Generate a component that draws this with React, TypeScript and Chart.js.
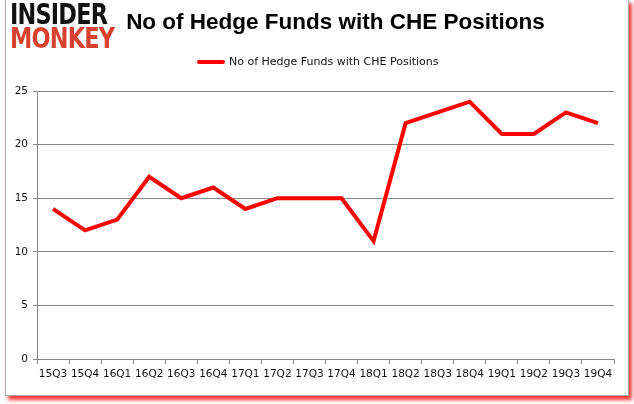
import React, { useEffect, useRef } from "react";
import { Chart, registerables } from "chart.js";

Chart.register(...registerables);

const categories = ["15Q3","15Q4","16Q1","16Q2","16Q3","16Q4","17Q1","17Q2","17Q3","17Q4","18Q1","18Q2","18Q3","18Q4","19Q1","19Q2","19Q3","19Q4"];
const hedgeFunds = [14,12,13,17,15,16,14,15,15,15,11,22,23,24,21,21,23,22];
const seriesLabel = "No of Hedge Funds with CHE Positions";
const titleText = "No of Hedge Funds with CHE Positions";
const yTicks = [0, 5, 10, 15, 20, 25];

export default function App() {
  const ref = useRef<HTMLCanvasElement | null>(null);
  useEffect(() => {
    document.body.style.margin = "0";
    const ctx = ref.current!;
    const chart = new Chart(ctx, {
      type: "line",
      data: {
        labels: categories,
        datasets: [{
          label: seriesLabel,
          data: hedgeFunds,
          borderColor: "#ff0000",
          backgroundColor: "#ff0000",
          borderWidth: 4,
          pointRadius: 0,
          tension: 0,
        }],
      },
      options: {
        animation: false,
        responsive: false,
        maintainAspectRatio: false,
        layout: { padding: { top: 91, right: 20, bottom: 10, left: 0 } },
        plugins: { legend: { display: false }, title: { display: false }, tooltip: { enabled: false } },
        scales: {
          x: {
            offset: true,
            grid: { offset: true, drawOnChartArea: false, drawTicks: true, tickLength: 5, color: "#888" },
            border: { color: "#888" },
            ticks: { color: "#111", font: { family: "DejaVu Sans", size: 10.5 }, maxRotation: 0, autoSkip: false, padding: 4 },
            afterFit: (s: any) => { s.height = 35; },
          },
          y: {
            min: 0, max: 25,
            afterBuildTicks: (s: any) => { s.ticks = yTicks.map((v) => ({ value: v })); },
            grid: { color: "#888", tickLength: 4 },
            border: { color: "#888" },
            ticks: { color: "#111", font: { family: "DejaVu Sans", size: 10.5 }, padding: 5 },
            afterFit: (s: any) => { s.width = 37; },
          },
        },
      },
    });
    return () => chart.destroy();
  }, []);

  return (
    <div style={{ position: "relative", width: 634, height: 404, background: "#fff", overflow: "hidden" }}>
      <div style={{ position: "absolute", left: 5, top: -1, width: 622, height: 395, border: "1px solid #aaa", boxShadow: "3px 4px 4px rgba(255,0,0,0.8)", background: "#fff" }} />
      <canvas ref={ref} width={634} height={404} style={{ position: "absolute", left: 0, top: 0 }} />
      <div style={{ position: "absolute", left: 10, top: 2, fontFamily: "DejaVu Sans", fontWeight: 900, fontSize: 28, lineHeight: "26px", color: "#111", transform: "scaleX(0.8)", transformOrigin: "left top", letterSpacing: -1 }}>INSIDER</div>
      <div style={{ position: "absolute", left: 10, top: 26, fontFamily: "DejaVu Sans", fontWeight: 900, fontSize: 28, lineHeight: "26px", color: "#d8412f", transform: "scaleX(0.8)", transformOrigin: "left top", letterSpacing: -1 }}>MONKEY</div>
      <div style={{ position: "absolute", left: 0, width: 671, top: 9, textAlign: "center", fontFamily: "Liberation Sans", fontWeight: 700, fontSize: 22.5, color: "#000" }}>{titleText}</div>
      <div style={{ position: "absolute", left: 197, top: 55, display: "flex", alignItems: "center", fontFamily: "DejaVu Sans", fontSize: 11, color: "#111" }}>
        <span style={{ display: "inline-block", width: 28, height: 4, background: "#ff0000", borderRadius: 2, marginRight: 4 }} />
        <span>{seriesLabel}</span>
      </div>
    </div>
  );
}
